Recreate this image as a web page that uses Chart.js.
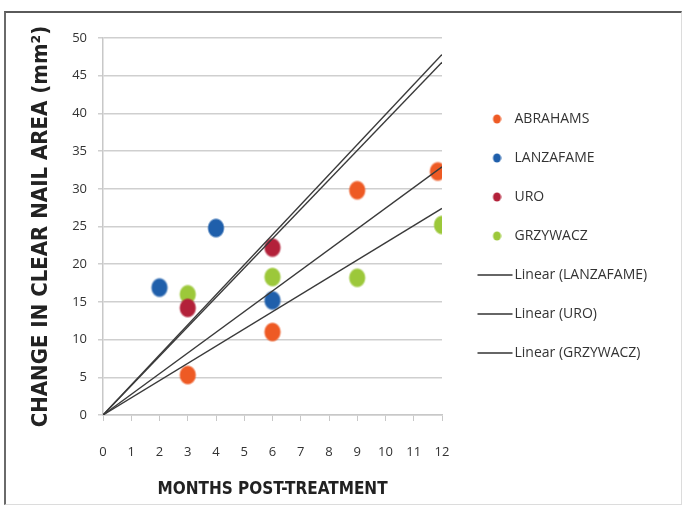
<!DOCTYPE html>
<html>
<head>
<meta charset="utf-8">
<script src="https://cdn.jsdelivr.net/npm/chart.js@4.4.1/dist/chart.umd.min.js"></script>
<style>
  html, body { margin: 0; padding: 0; background: #fff; }
  #frame { position: absolute; left: 4px; top: 11px; width: 675px; height: 491px;
           border-left: 2px solid #6a6a6a; border-top: 2px solid #5a5a5a;
           border-right: 1px solid #dcdcdc; border-bottom: 1px solid #dcdcdc; }
  #wrap { position: absolute; left: 0; top: 0; width: 686px; height: 508px; }
</style>
</head>
<body>
<div id="frame"></div>
<div id="wrap"><canvas id="c" width="686" height="508"></canvas></div>
<script>
// ---- data ----
const seriesNames = ['ABRAHAMS', 'LANZAFAME', 'URO', 'GRZYWACZ'];
const abrahamsX = [3, 6, 9, 11.85];
const abrahamsY = [5.3, 11.0, 29.8, 32.3];
const lanzafameX = [2, 4, 6];
const lanzafameY = [16.9, 24.8, 15.2];
const uroX = [3, 6];
const uroY = [14.2, 22.2];
const grzywaczX = [3, 6, 9, 12];
const grzywaczY = [16.0, 18.3, 18.2, 25.2];
// linear trend lines (through origin), end values read at month 12
const trendStartX = 0, trendEndX = 12;
const trendEndAbrahams = 32.9;
const trendEndLanzafame = 47.8;
const trendEndUro = 46.8;
const trendEndGrzywacz = 27.4;
const xTicks = [0,1,2,3,4,5,6,7,8,9,10,11,12];
const yTicks = [0,5,10,15,20,25,30,35,40,45,50];

const colors = { ABRAHAMS: '#ee5a24', LANZAFAME: '#1f5fab', URO: '#b3213a', GRZYWACZ: '#9cc83a' };

function pts(xs, ys) { return xs.map((x, i) => ({ x: x, y: ys[i] })); }

function blob(color) {
  const cv = document.createElement('canvas');
  cv.width = 20; cv.height = 22;
  const g = cv.getContext('2d');
  g.save();
  g.translate(10, 11);
  g.scale(1, 1.15);
  const grad = g.createRadialGradient(0, 0, 0, 0, 0, 9);
  grad.addColorStop(0, color);
  grad.addColorStop(0.78, color);
  grad.addColorStop(1, color + '00');
  g.fillStyle = grad;
  g.beginPath(); g.arc(0, 0, 9, 0, Math.PI * 2); g.fill();
  g.restore();
  return cv;
}
function legendDot(color) {
  const cv = document.createElement('canvas');
  cv.width = 28; cv.height = 10;
  const g = cv.getContext('2d');
  g.fillStyle = color;
  g.beginPath(); g.ellipse(23.5, 5, 4, 4.5, 0, 0, Math.PI * 2); g.fill();
  return cv;
}
function legendLine() {
  const cv = document.createElement('canvas');
  cv.width = 52; cv.height = 4;
  const g = cv.getContext('2d');
  g.strokeStyle = '#333';
  g.lineWidth = 1.5;
  g.beginPath(); g.moveTo(16, 2); g.lineTo(51, 2); g.stroke();
  return cv;
}

function scatterSet(name, xs, ys) {
  return {
    type: 'scatter', label: name, data: pts(xs, ys),
    pointStyle: blob(colors[name]), pointRadius: 9, pointHoverRadius: 9,
    backgroundColor: colors[name], borderColor: colors[name], order: 2,
    legendStyle: legendDot(colors[name]), inLegend: true
  };
}
function trendSet(name, endY, inLegend) {
  return {
    type: 'line', label: 'Linear (' + name + ')',
    data: [{ x: trendStartX, y: 0 }, { x: trendEndX, y: endY }],
    borderColor: '#3a3a3a', borderWidth: 1.4, pointRadius: 0, fill: false,
    order: 1, legendStyle: legendLine(), inLegend: inLegend
  };
}

const datasets = [
  scatterSet('ABRAHAMS', abrahamsX, abrahamsY),
  scatterSet('LANZAFAME', lanzafameX, lanzafameY),
  scatterSet('URO', uroX, uroY),
  scatterSet('GRZYWACZ', grzywaczX, grzywaczY),
  trendSet('ABRAHAMS', trendEndAbrahams, false),
  trendSet('LANZAFAME', trendEndLanzafame, true),
  trendSet('URO', trendEndUro, true),
  trendSet('GRZYWACZ', trendEndGrzywacz, true)
];

const legendFix = {
  id: 'legendFix',
  beforeLayout(chart) {
    const lg = chart.legend;
    if (lg && !lg._patched) {
      const f = lg.fit.bind(lg);
      lg.fit = function () { f(); this.width = 244; };
      lg._patched = true;
    }
  },
  afterLayout(chart) {
    const lg = chart.legend;
    if (!lg) return;
    lg.left = 467.5 - 25;
    lg.right = 686;
    lg.top = 119 - 7 - 25;
    lg.bottom = 508;
  }
};

new Chart(document.getElementById('c'), {
  type: 'scatter',
  data: { datasets: datasets },
  options: {
    responsive: false,
    animation: false,
    events: [],
    layout: { padding: { top: 38, left: 0, right: 0, bottom: 0 } },
    plugins: {
      tooltip: { enabled: false },
      legend: {
        position: 'right',
        align: 'start',
        labels: {
          usePointStyle: true,
          pointStyleWidth: 40,
          boxHeight: 6,
          padding: 25,
          color: '#333',
          font: { family: 'Open Sans', size: 14 },
          generateLabels(chart) {
            return chart.data.datasets
              .map((ds, i) => ({ ds, i }))
              .filter(o => o.ds.inLegend)
              .map(o => ({
                text: o.ds.label, datasetIndex: o.i, pointStyle: o.ds.legendStyle,
                fillStyle: o.ds.borderColor, strokeStyle: o.ds.borderColor,
                lineWidth: 0, hidden: false, fontColor: '#333'
              }));
          }
        }
      }
    },
    scales: {
      x: {
        type: 'linear', min: 0, max: 12,
        afterBuildTicks(s) { s.ticks = xTicks.map(v => ({ value: v })); },
        afterFit(s) { s.height = 93; },
        grid: { display: true, drawOnChartArea: false, drawTicks: true, tickLength: 6, color: '#c8c8c8', lineWidth: 1 },
        border: { display: true, color: '#c8c8c8', width: 1.5 },
        ticks: { autoSkip: false, maxRotation: 0, padding: 23, color: '#333',
                 font: { family: 'Open Sans', size: 13 } },
        title: { display: true, text: 'MONTHS POST-TREATMENT', color: '#222',
                 font: { family: "'DejaVu Sans Condensed', sans-serif", size: 17, weight: 'bold' },
                 padding: { top: 8, bottom: 8 } }
      },
      y: {
        type: 'linear', min: 0, max: 50,
        afterBuildTicks(s) { s.ticks = yTicks.map(v => ({ value: v })); },
        afterFit(s) { s.width = 103; },
        grid: { display: true, drawTicks: true, tickLength: 5, color: '#cfcfcf', lineWidth: 1.5 },
        border: { display: true, color: '#c8c8c8', width: 1.5 },
        ticks: { padding: 11, color: '#333', font: { family: 'Open Sans', size: 13 } },
        title: { display: true, text: 'CHANGE IN CLEAR NAIL AREA (mm²)', color: '#222',
                 font: { family: "'DejaVu Sans Condensed', sans-serif", size: 22, weight: 'bold' },
                 padding: { top: 28, bottom: 0 } }
      }
    }
  },
  plugins: [legendFix]
});
</script>
</body>
</html>
